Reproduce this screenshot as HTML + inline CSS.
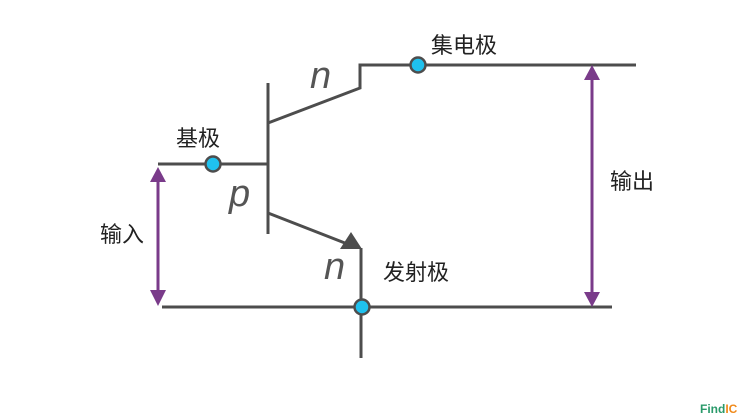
<!DOCTYPE html>
<html><head><meta charset="utf-8"><style>
body{margin:0;background:#fff;width:750px;height:415px;overflow:hidden}
</style></head><body>
<svg width="750" height="415" viewBox="0 0 750 415" xmlns="http://www.w3.org/2000/svg">
<g stroke="#4d4d4d" stroke-width="3" fill="none">
<line x1="268" y1="83" x2="268" y2="234"/>
<line x1="158" y1="164" x2="268" y2="164"/>
<polyline points="268,123 360,88 360,65 636,65"/>
<line x1="268" y1="213" x2="350" y2="245"/>
<line x1="361" y1="248" x2="361" y2="358"/>
<line x1="162" y1="307" x2="612" y2="307"/>
</g>
<polygon points="362,249 340,249 351,232" fill="#4d4d4d"/>
<g fill="#7a3b8a" stroke="#7a3b8a" stroke-width="3">
<line x1="158" y1="176" x2="158" y2="296"/>
<polygon points="150,182 166,182 158,167" stroke="none"/>
<polygon points="150,290 166,290 158,306" stroke="none"/>
<line x1="592" y1="76" x2="592" y2="296"/>
<polygon points="584,80 600,80 592,65" stroke="none"/>
<polygon points="584,292 600,292 592,307" stroke="none"/>
</g>
<g fill="#1fc1ee" stroke="#4d4d4d" stroke-width="2.5">
<circle cx="213" cy="164" r="7.5"/>
<circle cx="418" cy="65" r="7.5"/>
<circle cx="362" cy="307" r="7.5"/>
</g>
<g font-family="Liberation Sans, Noto Sans CJK SC, sans-serif" fill="#222" font-size="22">
<text x="431" y="53">集电极</text>
<text x="176" y="146">基极</text>
<text x="100" y="242">输入</text>
<text x="610" y="189">输出</text>
<text x="383" y="280">发射极</text>
</g>
<g font-family="Liberation Sans, sans-serif" font-style="italic" fill="#555" font-size="38">
<text x="310" y="88">n</text>
<text x="229" y="206">p</text>
<text x="324" y="279">n</text>
</g>
<text x="700" y="413" font-family="Liberation Sans, sans-serif" font-weight="bold" font-size="12" fill="#2a9a6a">Find<tspan fill="#f08a1c">IC</tspan></text>
</svg>
</body></html>
